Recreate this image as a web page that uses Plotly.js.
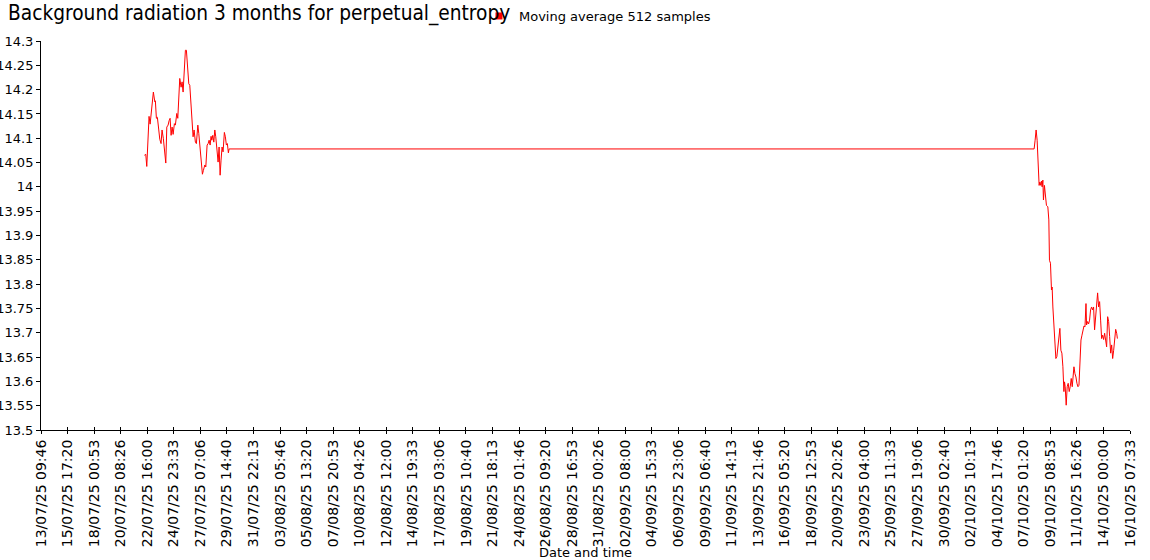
<!DOCTYPE html>
<html><head><meta charset="utf-8">
<script src="https://cdn.plot.ly/plotly-3.0.1.min.js"></script>
<style>html,body{margin:0;padding:0;background:#fff}</style>
</head><body><div id="chart" style="width:1150px;height:560px"></div>
<script>
const chartTitle = 'Background radiation 3 months for perpetual_entropy';
const seriesName = 'Moving average 512 samples';
const xAxisTitle = 'Date and time';
const firstSampleUTC = Date.UTC(2025, 6, 22, 10, 0, 0); // 22/07/25 10:00
const axisStart = '2025-07-13 09:46:40';
const axisEnd = '2025-10-16 07:33:20';
const tickStepMs = 200000000;
const yRange = [13.5, 14.3];
const yStep = 0.05;

const hoursSinceFirst = [
  0,2.9,5.0,6.3,9.8,12.0,14.6,16.7,18.8,21.8,23.0,25.1,27.2,30.1,32.2,34.9,37.0,39.7,42.7,44.8,
  46.9,49.6,51.7,53.8,55.9,58.0,60.1,62.8,64.8,67.8,69.9,72.0,74.0,76.8,78.9,81.0,83.7,85.8,87.9,90.8,
  92.9,95.0,97.7,99.8,101.9,104.0,106.7,108.8,111.8,113.8,115.9,118.6,121.4,123.5,126.4,128.5,131.2,133.3,135.4,137.5,
  139.5,141.0,143.1,145.2,147.3,149.3,151.4,154.2,156.3,158.4,160.4,162.5,164.6,167.3,169.4,171.5,173.6,175.7,177.2,
  1861.0,1863.1,1865.2,1867.3,1869.4,1871.5,1873.0,1875.1,1876.3,1877.8,1879.3,1880.5,1882.6,1884.7,1886.8,
  1889.7,1891.8,1893.1,1895.2,1897.3,1898.7,1900.2,1902.3,1904.4,1906.5,1908.6,1910.7,1912.8,1914.9,1917.0,
  1919.1,1921.2,1923.3,1924.6,1926.0,1928.1,1930.2,1932.3,1934.4,1936.5,1938.6,1940.7,1942.2,1944.3,1946.4,
  1948.5,1950.6,1952.7,1954.8,1956.9,1959.0,1961.1,1963.2,1965.3,1967.4,1969.5,1970.7,1972.8,1974.9,1977.0,
  1979.1,1981.2,1983.3,1985.4,1987.5,1989.6,1991.7,1993.8,1995.9,1998.0,2000.1,2002.2,2004.3,2006.4,2008.5,
  2010.6,2012.7,2014.8,2016.9,2019.0,2021.1,2023.2,2025.3,2027.4,2029.5,2031.6,2033.7,2035.2
];
const radiation = [
  14.065,14.067,14.042,14.075,14.145,14.129,14.158,14.188,14.195,14.175,14.177,14.141,14.143,14.117,14.098,14.089,14.117,14.099,14.062,14.049,
  14.123,14.127,14.136,14.141,14.106,14.123,14.108,14.130,14.127,14.151,14.141,14.185,14.223,14.205,14.216,14.195,14.236,14.281,14.281,14.233,
  14.212,14.209,14.159,14.130,14.103,14.117,14.092,14.089,14.127,14.110,14.089,14.048,14.026,14.034,14.045,14.041,14.086,14.089,14.096,14.086,
  14.104,14.096,14.106,14.092,14.117,14.103,14.075,14.051,14.082,14.024,14.055,14.082,14.072,14.112,14.103,14.086,14.089,14.070,14.078,
  14.078,14.096,14.117,14.096,14.034,14.003,14.010,14.003,14.012,14.000,14.014,13.973,14.003,13.973,13.962,
  13.959,13.932,13.849,13.843,13.788,13.794,13.753,13.712,13.671,13.647,13.651,13.671,13.699,13.709,13.664,
  13.658,13.630,13.579,13.599,13.589,13.551,13.589,13.596,13.579,13.589,13.606,13.589,13.613,13.630,13.616,
  13.609,13.596,13.589,13.592,13.658,13.685,13.695,13.706,13.714,13.712,13.760,13.716,13.723,13.718,13.726,
  13.747,13.753,13.747,13.753,13.706,13.730,13.764,13.782,13.753,13.764,13.726,13.688,13.695,13.686,13.699,
  13.678,13.671,13.733,13.723,13.692,13.658,13.675,13.647,13.664,13.692,13.707,13.699,13.688
];

const times = hoursSinceFirst.map(h => firstSampleUTC + h * 3600000);

const lineTrace = {
  type: 'scatter', mode: 'lines', x: times, y: radiation,
  line: {color: 'rgb(255,0,0)', width: 1},
  showlegend: false, hoverinfo: 'x+y'
};
const legendTrace = {
  type: 'scatter', mode: 'markers', x: [null], y: [null], xaxis: 'x2',
  name: seriesName, marker: {symbol: 'square', color: 'rgb(255,0,0)', size: 7},
  showlegend: true
};

const baseFont = 'DejaVu Sans, Verdana, sans-serif';
const layout = {
  width: 1150, height: 560,
  margin: {l: 41, r: 20, t: 41, b: 130, pad: 0, autoexpand: false},
  paper_bgcolor: '#ffffff', plot_bgcolor: '#ffffff',
  font: {family: baseFont, size: 13, color: '#000'},
  title: {
    text: chartTitle,
    font: {family: 'Liberation Sans Narrow, DejaVu Sans Condensed, Arial Narrow, sans-serif', size: 20.7, color: '#000'},
    x: 8 / 1150, xanchor: 'left', xref: 'container',
    y: 0.99, yanchor: 'top', yref: 'container'
  },
  showlegend: true,
  legend: {
    x: 0.4022, xanchor: 'left', y: 1.1028, yanchor: 'top',
    bgcolor: 'rgba(0,0,0,0)', borderwidth: 0, font: {family: baseFont, size: 13, color: '#000'}
  },
  xaxis: {
    type: 'date', range: [axisStart, axisEnd], tick0: axisStart, dtick: tickStepMs,
    tickformat: '%d/%m/%y %H:%M', tickangle: -90,
    ticks: 'outside', ticklen: 3, tickwidth: 1, tickcolor: '#000',
    showgrid: false, zeroline: false, showline: true, linecolor: '#000', linewidth: 1,
    tickfont: {family: baseFont, size: 14, color: '#000'},
    title: {text: xAxisTitle, font: {family: baseFont, size: 13, color: '#000'}, standoff: 0}
  },
  xaxis2: {
    type: 'date', overlaying: 'x', anchor: 'y', side: 'bottom',
    range: [axisStart, axisEnd], tick0: axisStart, dtick: tickStepMs,
    ticks: 'inside', ticklen: 3, tickwidth: 1, tickcolor: '#000',
    showticklabels: false, showgrid: false, zeroline: false, showline: false
  },
  yaxis: {
    range: yRange, tick0: yRange[0], dtick: yStep,
    ticks: 'outside', ticklen: 4, tickwidth: 1, tickcolor: '#000',
    showgrid: false, zeroline: false, showline: true, linecolor: '#000', linewidth: 1,
    tickfont: {family: baseFont, size: 13, color: '#000'}
  }
};

Plotly.newPlot('chart', [lineTrace, legendTrace], layout, {displayModeBar: false, staticPlot: true});
</script>
</body></html>
